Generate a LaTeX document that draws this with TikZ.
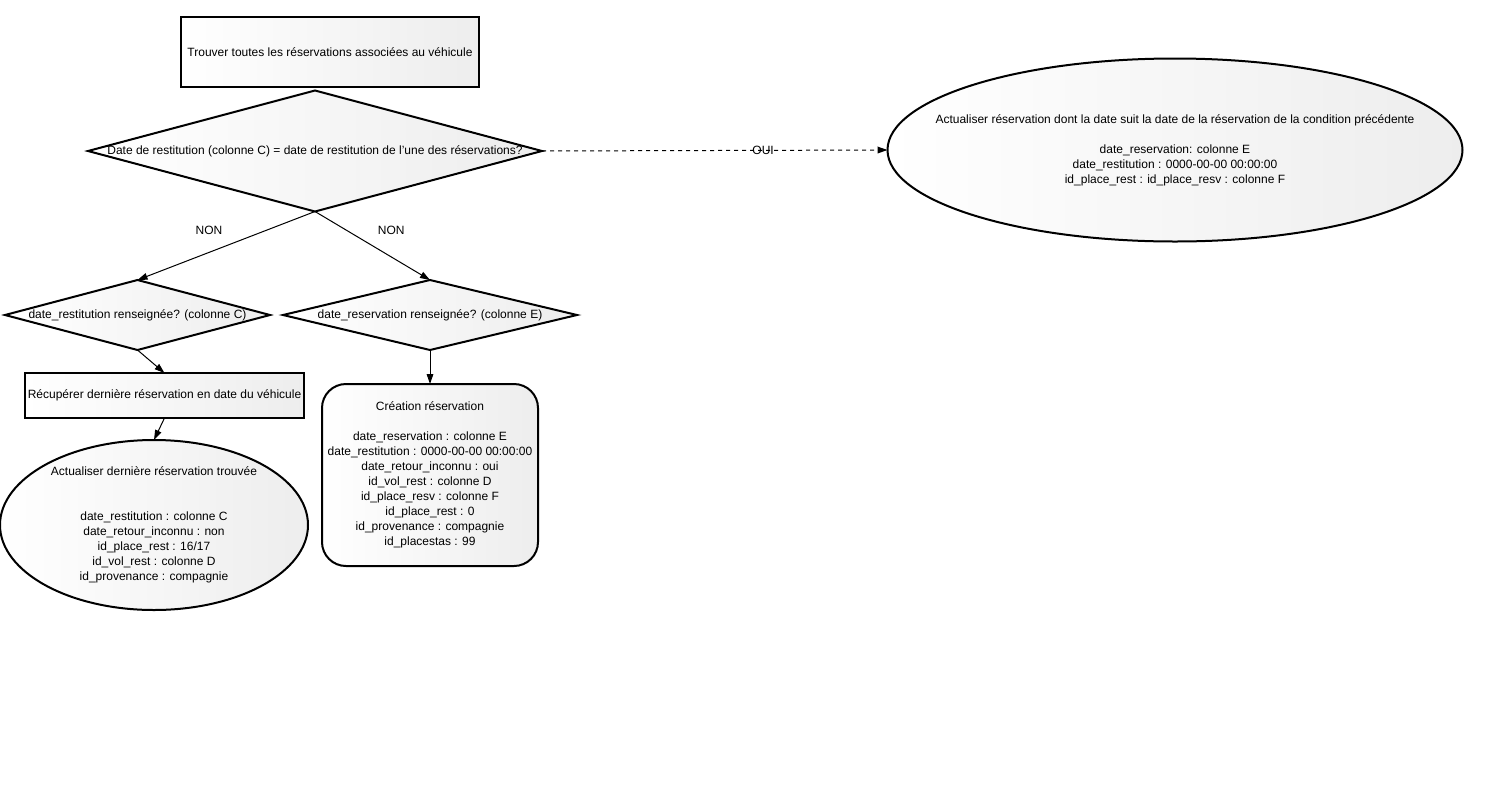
\documentclass[tikz,border=0pt]{standalone}
\usepackage{fontspec}
\setmainfont{Liberation Sans}
\usetikzlibrary{shapes.geometric,arrows.meta}
\definecolor{shadecolor}{gray}{0.93}
\newdimen\px
\px=0.75pt

\begin{document}
\begin{tikzpicture}[
	x=0.75pt, y=-0.75pt,
	every node/.style={outer sep=0pt, inner sep=0pt, align=center,
		font=\fontsize{9}{11.25}\selectfont},
	grad/.style={draw, line width=1.5pt, left color=white, right color=shadecolor},
	box/.style={grad, rectangle},
	cond/.style={grad, diamond},
	oval/.style={grad, ellipse},
	roundbox/.style={grad, rectangle, rounded corners=18pt},
	link/.style={-{Triangle[length=7.5pt,width=5pt]}, line width=0.75pt},
]
\useasboundingbox (0,0) rectangle (1500,800);
% \decision[options](name){width}{height}{text}
\def\decision[#1](#2)#3#4#5{
	\node[cond, minimum width=#3\px, minimum height=#4\px, #1](#2){};
	\node at (#2) (#2txt) {#5};
}
% \action[shape, options](name){width}{height}{text}
\def\action[#1](#2)#3#4#5{
	\node[#1, minimum width=#3\px, minimum height=#4\px](#2){};
	\node at (#2) (#2txt) {#5};
}
	\action[box, at={(330,52)}](find){298}{70}
		{Trouver toutes les réservations associées au véhicule}
	\decision[at={(315,151)}](q1){454}{121}
		{Date de restitution (colonne C) = date de restitution de l'une des réservations?}
	\action[oval, at={(1175,150)}](upd){575}{183}
		{Actualiser réservation dont la date suit la date de la réservation de la condition précédente\\[15\px]
		date\_reservation: colonne E\\
		date\_restitution : 0000-00-00 00:00:00\\
		id\_place\_rest : id\_place\_resv : colonne F}
	\draw[link, dashed] (q1.east) -- (upd.west) node[pos=0.64]{OUI};

	\decision[at={(137.5,315)}](q2){265}{70}
		{date\_restitution renseignée? (colonne C)}
	\decision[at={(430,315)}](q3){294}{70}
		{date\_reservation renseignée? (colonne E)}
	\draw[link] (q1.south) -- (q2.north) node[pos=0.27, xshift=-58\px]{NON};
	\draw[link] (q1.south) -- (q3.north) node[pos=0.28, xshift=44\px]{NON};

	\action[box, at={(164.5,395.5)}](last){279}{45}
		{Récupérer dernière réservation en date du véhicule}
	\action[oval, at={(154,525)}](act){308}{170}
		{Actualiser dernière réservation trouvée\\[30\px]
		date\_restitution : colonne C\\
		date\_retour\_inconnu : non\\
		id\_place\_rest : 16/17\\
		id\_vol\_rest : colonne D\\
		id\_provenance : compagnie}
	\draw[link] (q2.south) -- (last.north);
	\draw[link] (last.south) -- (act.north);

	\action[roundbox, at={(430,475)}](new){216}{182}
		{Création réservation\\[15\px]
		date\_reservation : colonne E\\
		date\_restitution : 0000-00-00 00:00:00\\
		date\_retour\_inconnu : oui\\
		id\_vol\_rest : colonne D\\
		id\_place\_resv : colonne F\\
		id\_place\_rest : 0\\
		id\_provenance : compagnie\\
		id\_placestas : 99}
	\draw[link] (q3.south) -- (new.north);
\end{tikzpicture}
\end{document}
